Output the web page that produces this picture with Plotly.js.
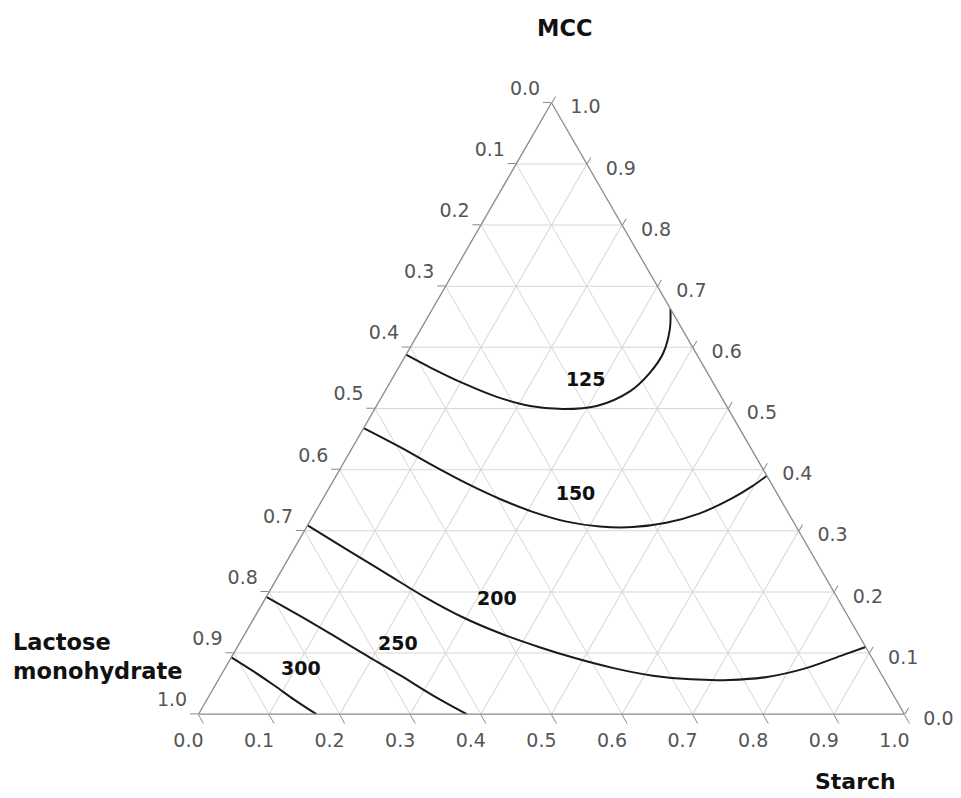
<!DOCTYPE html>
<html>
<head>
<meta charset="utf-8">
<script src="https://cdn.plot.ly/plotly-3.0.1.min.js"></script>
<style>html,body{margin:0;padding:0;background:#fff;}</style>
</head>
<body>
<div id="chart" style="width:961px;height:798px;"></div>
<script>
// ---- Titles ----
const titleMCC = 'MCC';
const titleLactose = 'Lactose<br>monohydrate';
const titleStarch = 'Starch';

// ---- Ticks (edge labels show the fraction of the vertex component) ----
const tickVals = [0, 0.1, 0.2, 0.3, 0.4, 0.5, 0.6, 0.7, 0.8, 0.9, 1.0];
const tickText = ['1.0', '0.9', '0.8', '0.7', '0.6', '0.5', '0.4', '0.3', '0.2', '0.1', '0.0'];

// ---- Contour 125 ----
const c125_mcc     = [0.588, 0.567, 0.541, 0.519, 0.504, 0.499, 0.504, 0.528, 0.558, 0.590, 0.629, 0.663];
const c125_lactose = [0.412, 0.388, 0.354, 0.318, 0.278, 0.234, 0.184, 0.125, 0.082, 0.047, 0.018, 0.000];
const c125_starch  = [0.000, 0.045, 0.105, 0.163, 0.218, 0.267, 0.312, 0.347, 0.360, 0.363, 0.353, 0.337];

// ---- Contour 150 ----
const c150_mcc     = [0.468, 0.436, 0.406, 0.377, 0.352, 0.331, 0.315, 0.307, 0.306, 0.313, 0.328, 0.353, 0.373, 0.390];
const c150_lactose = [0.532, 0.495, 0.464, 0.431, 0.397, 0.361, 0.321, 0.278, 0.232, 0.181, 0.127, 0.068, 0.029, 0.000];
const c150_starch  = [0.000, 0.069, 0.130, 0.192, 0.251, 0.308, 0.364, 0.415, 0.462, 0.506, 0.545, 0.579, 0.598, 0.610];

// ---- Contour 200 ----
const c200_mcc     = [0.309, 0.268, 0.230, 0.192, 0.159, 0.132, 0.110, 0.091, 0.075, 0.063, 0.057, 0.056, 0.061, 0.075, 0.097, 0.110];
const c200_lactose = [0.691, 0.654, 0.619, 0.584, 0.547, 0.506, 0.463, 0.419, 0.373, 0.325, 0.274, 0.220, 0.164, 0.103, 0.038, 0.000];
const c200_starch  = [0.000, 0.078, 0.151, 0.224, 0.294, 0.362, 0.427, 0.490, 0.552, 0.612, 0.669, 0.724, 0.775, 0.822, 0.865, 0.890];

// ---- Contour 250 ----
const c250_mcc     = [0.192, 0.160, 0.128, 0.095, 0.063, 0.030, 0.000];
const c250_lactose = [0.808, 0.775, 0.744, 0.713, 0.682, 0.652, 0.620];
const c250_starch  = [0.000, 0.065, 0.128, 0.192, 0.255, 0.318, 0.380];

// ---- Contour 300 ----
const c300_mcc     = [0.093, 0.070, 0.047, 0.023, 0.000];
const c300_lactose = [0.907, 0.887, 0.869, 0.852, 0.833];
const c300_starch  = [0.000, 0.043, 0.084, 0.125, 0.167];

// ---- Contour labels ----
const levelText     = ['125', '150', '200', '250', '300'];
const label_mcc     = [0.545, 0.358, 0.187, 0.113, 0.072];
const label_lactose = [0.179, 0.287, 0.484, 0.661, 0.819];
const label_starch  = [0.276, 0.355, 0.329, 0.226, 0.109];

const FONT = '"DejaVu Sans", "Liberation Sans", Arial, sans-serif';
const NB = '\u00a0';

function contour(a, b, c) {
  return {
    type: 'scatterternary', mode: 'lines',
    a: a, b: b, c: c,
    line: {color: '#1a1a1a', width: 2, shape: 'spline', smoothing: 1},
    hoverinfo: 'skip', showlegend: false
  };
}

const traces = [
  contour(c125_mcc, c125_lactose, c125_starch),
  contour(c150_mcc, c150_lactose, c150_starch),
  contour(c200_mcc, c200_lactose, c200_starch),
  contour(c250_mcc, c250_lactose, c250_starch),
  contour(c300_mcc, c300_lactose, c300_starch),
  {
    type: 'scatterternary', mode: 'text',
    a: label_mcc, b: label_lactose, c: label_starch,
    text: levelText,
    textposition: 'middle center',
    textfont: {family: FONT, size: 19, color: '#111', weight: 'bold'},
    hoverinfo: 'skip', showlegend: false
  }
];

// label placement tweaks (pure styling of the same tick texts)
const textLeft   = tickText.map(t => t + '<br>' + NB);                // nudged up
const textBottom = tickText.map(t => t + NB + NB + NB + NB + NB);     // nudged left
const textRight  = tickText.map(t => NB + '<br>' + NB + NB + t);       // nudged down/right

function axis(ticktext, ticklen) {
  return {
    title: {text: ''},
    min: 0,
    tickmode: 'array',
    tickvals: tickVals,
    ticktext: ticktext,
    ticks: 'outside',
    ticklen: ticklen,
    tickwidth: 1,
    tickcolor: '#8a8a8a',
    tickfont: {family: FONT, size: 19, color: '#555'},
    showline: true,
    linecolor: '#8a8a8a',
    linewidth: 1.3,
    showgrid: true,
    gridcolor: '#d6d6d6',
    gridwidth: 1
  };
}

const W = 961, H = 798;
const layout = {
  width: W, height: H,
  margin: {l: 0, r: 0, t: 0, b: 0},
  paper_bgcolor: '#fff',
  plot_bgcolor: '#fff',
  showlegend: false,
  ternary: {
    sum: 1,
    domain: {x: [198.5 / W, 904.5 / W], y: [(H - 718) / H, (H - 99) / H]},
    bgcolor: '#fff',
    aaxis: axis(textLeft, 8),
    baxis: axis(textBottom, 10),
    caxis: axis(textRight, 7)
  },
  annotations: [
    {text: titleMCC, xref: 'paper', yref: 'paper', x: 564 / W, y: 1 - 28 / H,
     xanchor: 'center', yanchor: 'middle', showarrow: false,
     font: {family: FONT, size: 22.5, color: '#111', weight: 'bold'}},
    {text: titleLactose, xref: 'paper', yref: 'paper', x: 11 / W, y: 1 - 656 / H,
     xanchor: 'left', yanchor: 'middle', align: 'left', showarrow: false,
     font: {family: FONT, size: 22.5, color: '#111', weight: 'bold'}},
    {text: titleStarch, xref: 'paper', yref: 'paper', x: 855 / W, y: 1 - 781 / H,
     xanchor: 'center', yanchor: 'middle', showarrow: false,
     font: {family: FONT, size: 22, color: '#111', weight: 'bold'}}
  ]
};

Plotly.newPlot('chart', traces, layout, {displayModeBar: false, staticPlot: true});
</script>
</body>
</html>
